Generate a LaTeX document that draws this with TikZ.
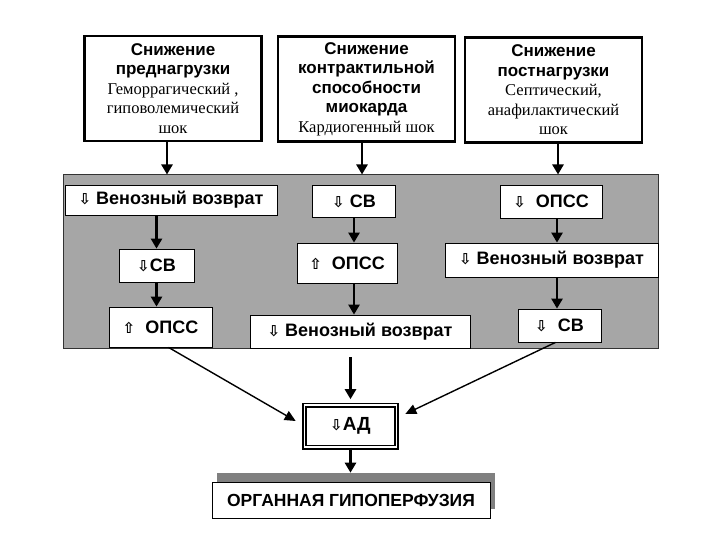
\documentclass[tikz,border=0pt]{standalone}
\usepackage{fontspec}
\setmainfont{Liberation Serif}
\newfontfamily\headfont{Liberation Sans}
\newfontfamily\arrowfont{DejaVu Sans}
\usetikzlibrary{arrows.meta, shadows, positioning}
\newcommand{\arrdn}{{\arrowfont\bfseries\fontsize{15}{15}\selectfont ⇩}}
\newcommand{\arrup}{{\arrowfont\bfseries\fontsize{15}{15}\selectfont ⇧}}
\newcommand{\headtext}{\headfont\bfseries\fontsize{17}{19.5}\selectfont}
\newcommand{\labeltext}{\headfont\bfseries\fontsize{18}{20}\selectfont}
\newcommand{\subtext}{\rmfamily\mdseries\fontsize{16.5}{18}\selectfont}
\tikzset{cause/.style={draw=black, line width=2.5pt, fill=white, minimum width=177pt,
    minimum height=105pt, align=center, inner sep=2pt, font=\headtext},
    effect/.style={draw=black, line width=0.8pt, fill=white, minimum height=33pt,
    inner sep=2pt, font=\labeltext},
    flow/.style={draw, line width=2.5pt, -{Triangle[length=10pt,width=11pt]}},
    slantflow/.style={draw, line width=1.4pt, -{Triangle[length=11pt,width=10pt]}}}

\begin{document}
\begin{tikzpicture}[x=1pt, y=-1pt]
  \useasboundingbox (0,0) rectangle (720,540);

  % Causes of shock
  \node[cause] (p1) at (173,88.5) {Снижение\\преднагрузки\\\subtext Геморрагический ,\\\subtext гиповолемический\\\subtext шок};
  \node[cause] (p2) at (366.5,89) {Снижение\\контрактильной\\способности\\миокарда\\\subtext Кардиогенный шок};
  \node[cause] (p3) at (553.5,90) {Снижение\\постнагрузки\\\subtext Септический,\\\subtext анафилактический\\\subtext шок};

  % Shaded panel with the chains
  \node[draw=black!80, line width=1pt, fill=black!35, minimum width=595pt, minimum height=173pt,
    inner sep=0pt] (panel) at (360.5,261.5) {};

  \node[effect, minimum width=212pt, minimum height=30pt] (a1) at (171,200) {\arrdn\ Венозный возврат};
  \node[effect, minimum width=75pt] (a2) at (156.5,265.5) {\arrdn СВ};
  \node[effect, minimum width=103pt, minimum height=40pt] (a3) at (160.5,327) {\arrup\ \ ОПСС};

  \node[effect, minimum width=83pt, minimum height=32pt] (b1) at (354,201) {\arrdn\ СВ};
  \node[effect, minimum width=100pt, minimum height=40pt] (b2) at (347,263) {\arrup\ \ ОПСС};
  \node[effect, minimum width=220pt] (b3) at (360,331.5) {\arrdn\ Венозный возврат};

  \node[effect, minimum width=102pt] (c1) at (551,201.5) {\arrdn\ \ ОПСС};
  \node[effect, minimum width=213pt, minimum height=34pt] (c2) at (551.5,260) {\arrdn\ Венозный возврат};
  \node[effect, minimum width=83pt] (c3) at (559.5,325.5) {\arrdn\ \ СВ};

  % Blood pressure and outcome
  \node[draw=black, line width=1.6pt, double=white, double distance=1.8pt, fill=white,
    minimum width=92pt, minimum height=42pt, font={\headfont\bfseries\fontsize{19}{20}\selectfont}] (ad) at (350.5,426) {\arrdn АД};
  \node[draw=black, line width=0.6pt, fill=white, minimum width=278pt, minimum height=36pt,
    drop shadow={shadow xshift=5pt, shadow yshift=9pt, fill=black!50, opacity=1},
    font={\headfont\bfseries\fontsize{17.5}{20}\selectfont}] (org) at (351,500) {ОРГАННАЯ ГИПОПЕРФУЗИЯ};

  % Arrows into the panel
  \draw[flow] (p1.south -| 167,0) -- (panel.north -| 167,0);
  \draw[flow] (p2.south -| 362,0) -- (panel.north -| 362,0);
  \draw[flow] (p3.south -| 558,0) -- (panel.north -| 558,0);

  % Arrows inside the panel
  \draw[flow] (a1.south -| a2.north) -- (a2.north);
  \draw[flow] (a2.south) -- (a2.south |- a3.north);
  \draw[flow] (b1.south) -- (b1.south |- b2.north);
  \draw[flow] (b2.south -| b1.south) -- (b1.south |- b3.north);
  \draw[flow] (c1.south -| 557,0) -- (c2.north -| 557,0);
  \draw[flow] (c2.south -| 557,0) -- (c3.north -| 557,0);

  % Arrows to the pressure box
  \draw[slantflow] ([xshift=8pt]a3.south) -- ([xshift=-8pt, yshift=5pt]ad.west);
  \draw[flow, shorten <=9pt, shorten >=5pt] (b3.south -| ad.north) -- (ad.north);
  \draw[slantflow] ([xshift=-4pt]c3.south) -- ([xshift=8pt, yshift=12pt]ad.east);
  \draw[flow, shorten >=9pt] (ad.south) -- (ad.south |- org.north);
\end{tikzpicture}
\end{document}
